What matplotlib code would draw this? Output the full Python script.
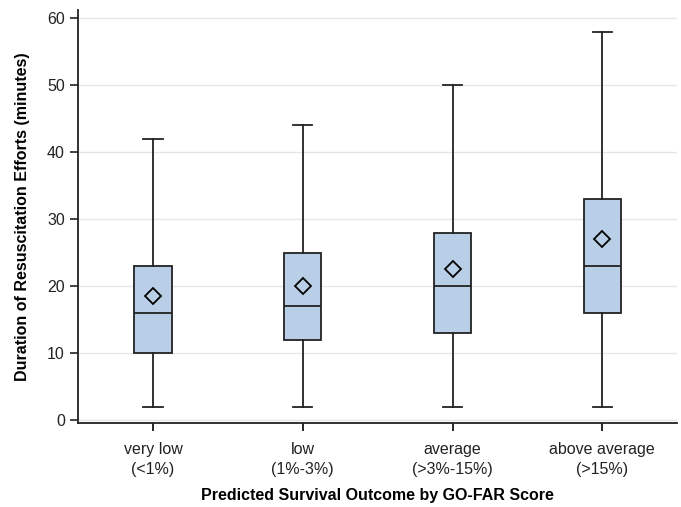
import matplotlib
matplotlib.use("Agg")
import matplotlib.pyplot as plt

categories = ["very low\n(<1%)", "low\n(1%-3%)", "average\n(>3%-15%)", "above average\n(>15%)"]
whisker_low = [2, 2, 2, 2]
q1 = [10, 12, 13, 16]
median = [16, 17, 20, 23]
q3 = [23, 25, 28, 33]
whisker_high = [42, 44, 50, 58]
means = [18.5, 20, 22.5, 27]

plt.rcParams['font.family'] = ['Liberation Sans', 'DejaVu Sans']

fig = plt.figure(figsize=(6.81, 5.07), dpi=100)
ax = fig.add_axes([0.1145, 0.166, 0.88, 0.814])

stats = []
for i in range(len(categories)):
    stats.append(dict(whislo=whisker_low[i], q1=q1[i], med=median[i], q3=q3[i],
                      whishi=whisker_high[i], mean=means[i], fliers=[]))

edge = '#222222'
ax.bxp(stats, positions=range(len(categories)), widths=0.25, showmeans=True,
       patch_artist=True, showfliers=False,
       boxprops=dict(facecolor='#B8CFE7', edgecolor=edge, linewidth=1.3),
       medianprops=dict(color=edge, linewidth=1.3),
       whiskerprops=dict(color=edge, linewidth=1.3),
       capprops=dict(color=edge, linewidth=1.3),
       capwidths=0.13,
       meanprops=dict(marker='D', markerfacecolor='none', markeredgecolor='black',
                      markersize=8, markeredgewidth=1.3),
       zorder=3)

ax.set_xlim(-0.5, 3.5)
ax.set_ylim(-0.4, 61.2)
ax.set_yticks([0, 10, 20, 30, 40, 50, 60])
ax.set_xticks(range(len(categories)))
ax.set_xticklabels(categories, fontsize=11.5, color='#222222', linespacing=1.4)
ax.tick_params(axis='y', labelsize=11.5, colors='#222222', length=6, width=1.2, direction='out')
ax.tick_params(axis='x', length=6, width=1.2, direction='out', pad=8)
ax.yaxis.grid(True, color='#E6E6E6', linewidth=1, zorder=0)
ax.set_axisbelow(True)
for s in ['top', 'right']:
    ax.spines[s].set_visible(False)
for s in ['left', 'bottom']:
    ax.spines[s].set_linewidth(1.3)
    ax.spines[s].set_color('#222222')

ax.set_xlabel("Predicted Survival Outcome by GO-FAR Score", fontsize=11.5, fontweight='bold', labelpad=8)
ax.set_ylabel("Duration of Resuscitation Efforts (minutes)", fontsize=11.5, fontweight='bold', labelpad=12)

fig.savefig("out.png", dpi=100)
